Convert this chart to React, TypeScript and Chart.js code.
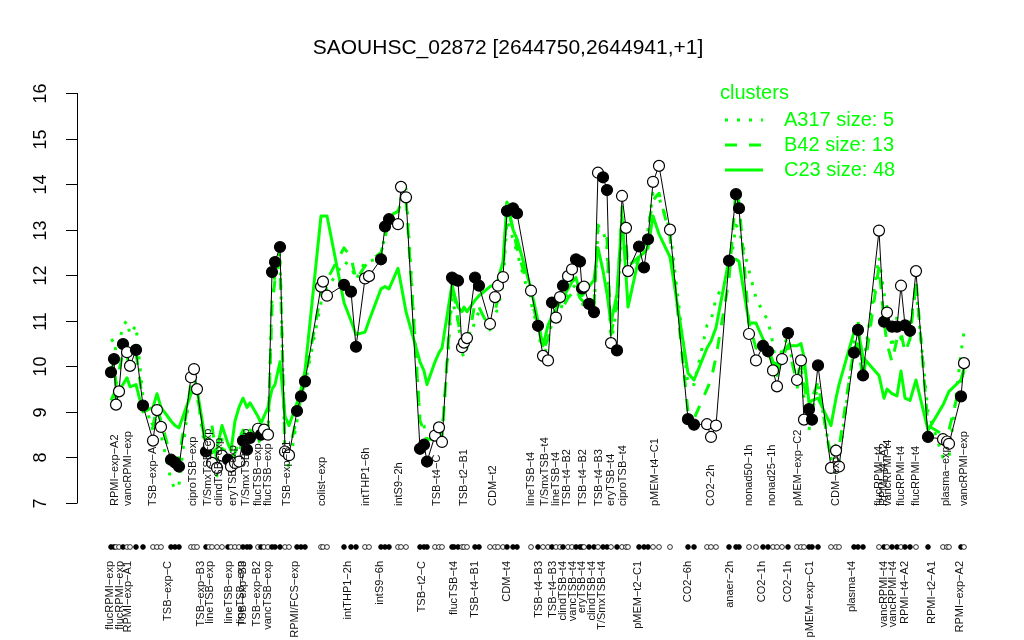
import React, { useEffect, useRef } from "react";
import { Chart, registerables } from "chart.js";

Chart.register(...registerables);

const TITLE = "SAOUHSC_02872 [2644750,2644941,+1]";

// sample positions along the x axis (arbitrary layout units, groups separated by gaps)
const samplePos = [
  34, 37, 39, 42, 46, 50, 53, 59, 66, 76, 80, 84, 94, 98, 102, 114, 117, 120, 129, 132,
  135, 140, 145, 151, 154, 158, 162, 166, 170, 173, 181, 184, 187, 191, 195, 198, 203, 208, 212, 220,
  224, 228, 244, 246, 250, 267, 274, 279, 288, 292, 304, 308, 312, 321, 324, 329, 343, 347, 350, 358,
  362, 365, 375, 377, 381, 385, 387, 390, 398, 402, 413, 418, 421, 426, 430, 436, 440, 454, 461, 466,
  471, 475, 479, 483, 486, 491, 495, 499, 503, 505, 507, 512, 517, 521, 526, 530, 534, 540, 545, 549,
  551, 562, 567, 571, 576, 582, 593, 611, 617, 630, 634, 639, 652, 659, 662, 672, 679, 686, 691, 696,
  700, 705, 711, 720, 724, 727, 732, 735, 741, 754, 759, 762, 777, 781, 786, 802, 807, 810, 815, 820,
  824, 828, 833, 839, 851, 866, 870, 872, 884, 887,
];

// expression of this gene
const expression = [
  9.87, 10.16, 9.16, 9.45, 10.49, 10.31, 10.01, 10.36, 9.14, 8.37, 9.04, 8.67, 7.95, 7.89, 7.8, 9.76, 9.94, 9.5, 8.13, 8.28,
  7.88, 7.77, 8.04, 7.95, 7.8, 7.88, 7.91, 8.37, 8.17, 8.43, 8.63, 8.5, 8.61, 8.5, 12.07, 12.29, 12.62, 8.13, 8.05, 9.02,
  9.34, 9.67, 11.75, 11.86, 11.55, 11.79, 11.64, 10.43, 11.93, 11.98, 12.35, 13.07, 13.23, 13.12, 13.94, 13.71, 8.19, 8.28, 7.91, 8.48,
  8.66, 8.34, 11.95, 11.91, 11.88, 10.42, 10.52, 10.62, 11.95, 11.77, 10.93, 11.52, 11.77, 11.96, 13.41, 13.47, 13.36, 11.66, 10.89, 10.23,
  10.13, 11.4, 11.07, 11.52, 11.77, 11.98, 12.13, 12.35, 12.3, 11.71, 11.75, 11.37, 11.19, 14.25, 14.15, 13.87, 10.51, 10.35, 13.74, 13.04,
  12.09, 12.63, 12.17, 12.79, 14.05, 14.4, 13.0, 8.84, 8.72, 8.73, 8.45, 8.7, 12.32, 13.78, 13.47, 10.71, 10.13, 10.45, 10.33, 9.91,
  9.56, 10.16, 10.73, 9.7, 10.13, 8.83, 9.06, 8.83, 10.02, 7.77, 8.15, 7.8, 10.3, 10.8, 9.8, 12.98, 10.98, 11.18, 10.87, 10.87,
  11.77, 10.9, 10.78, 12.09, 8.45, 8.4, 8.35, 8.3, 9.34, 10.07,
];

// 1 = filled marker, 0 = open marker
const filledMarker = [
  1, 1, 0, 0, 1, 0, 0, 1, 1, 0, 0, 0, 1, 1, 1, 0, 0, 0, 1, 0,
  0, 0, 0, 1, 0, 0, 0, 1, 1, 1, 0, 1, 0, 0, 1, 1, 1, 0, 0, 1,
  1, 1, 0, 0, 0, 1, 1, 1, 0, 0, 1, 1, 1, 0, 0, 0, 1, 1, 1, 0,
  0, 0, 1, 1, 1, 0, 0, 0, 1, 1, 0, 0, 0, 0, 1, 1, 1, 0, 1, 0,
  0, 1, 0, 0, 1, 0, 0, 1, 1, 1, 0, 1, 1, 0, 1, 1, 0, 1, 0, 0,
  0, 1, 1, 1, 0, 0, 0, 1, 1, 0, 0, 0, 1, 1, 1, 0, 0, 1, 1, 0,
  0, 0, 1, 0, 0, 0, 1, 1, 1, 0, 0, 0, 1, 1, 1, 0, 1, 0, 1, 1,
  0, 1, 1, 0, 1, 0, 0, 0, 1, 0,
];

// cluster A317 (dotted)
const clusterA317 = [
  10.55, 10.6, 10.3, 10.5, 10.9, 11.0, 10.7, 10.9, 9.3, 8.6, 9.0, 8.5, 7.5, 7.3, 7.4, 9.7, 9.9, 9.4, 8.0, 8.2,
  7.7, 7.6, 8.4, 7.8, 7.7, 8.0, 8.1, 8.4, 8.3, 8.5, 8.4, 8.3, 8.5, 8.4, 11.6, 12.0, 12.5, 8.0, 7.8, 8.8,
  9.2, 9.6, 11.4, 11.8, 11.7, 12.3, 12.2, 11.9, 12.3, 12.3, 12.4, 12.9, 13.2, 13.4, 13.7, 13.9, 8.8, 8.7, 8.3, 8.6,
  8.8, 8.5, 11.5, 11.3, 11.0, 10.3, 10.2, 10.4, 11.0, 11.2, 10.9, 11.1, 11.3, 11.8, 13.2, 12.8, 12.5, 11.4, 10.8, 10.2,
  10.5, 11.0, 11.1, 11.2, 11.4, 11.6, 11.7, 11.8, 11.6, 11.4, 11.3, 11.2, 11.2, 13.0, 13.0, 12.6, 10.5, 11.3, 13.0, 12.6,
  12.1, 12.3, 12.5, 13.0, 13.8, 13.7, 13.0, 9.6, 9.6, 10.9, 11.0, 11.5, 12.0, 13.1, 13.0, 12.1, 11.5, 11.2, 11.0, 10.5,
  9.8, 10.4, 10.65, 9.5, 10.1, 9.3, 8.6, 9.0, 9.6, 8.0, 7.7, 7.9, 10.5, 11.0, 10.0, 12.4, 11.6, 11.3, 10.4, 11.1,
  10.6, 10.9, 10.9, 11.7, 9.0, 8.0, 7.95, 8.0, 10.3, 10.75,
];

// cluster B42 (dashed)
const clusterB42 = [
  9.9, 10.1, 9.6, 9.9, 10.3, 10.2, 10.0, 10.3, 9.2, 8.7, 9.1, 8.8, 8.0, 7.95, 8.0, 9.6, 9.8, 9.4, 8.2, 8.4,
  8.7, 7.9, 8.2, 8.0, 7.9, 8.1, 8.4, 8.6, 8.4, 8.6, 8.5, 8.4, 8.5, 8.5, 11.3, 11.9, 12.3, 8.2, 8.1, 8.9,
  9.3, 9.7, 11.6, 11.8, 11.9, 12.6, 12.4, 11.9, 12.2, 12.3, 12.5, 12.8, 13.3, 13.4, 13.6, 13.7, 8.8, 8.6, 8.4, 8.4,
  8.6, 8.4, 11.8, 11.6, 11.0, 10.5, 10.3, 10.4, 11.4, 11.3, 10.8, 11.2, 11.5, 12.0, 13.6, 13.0, 12.6, 11.5, 10.9, 10.35,
  10.6, 11.1, 11.2, 11.25, 11.3, 11.5, 11.6, 11.7, 11.5, 11.45, 11.4, 11.3, 11.3, 13.1, 12.9, 12.8, 10.7, 11.4, 13.5, 12.7,
  12.2, 12.4, 12.55, 13.0, 13.65, 13.8, 12.85, 9.0, 8.85, 9.5, 9.7, 10.2, 11.9, 13.9, 13.6, 10.95, 10.4, 10.35, 10.3, 10.05,
  9.8, 10.2, 10.45, 9.65, 10.2, 9.6, 9.0, 9.3, 9.65, 7.95, 8.3, 8.2, 10.4, 10.5, 9.7, 12.2, 11.0, 10.5, 10.1, 10.6,
  10.75, 10.3, 10.6, 11.9, 8.7, 8.5, 8.55, 8.6, 9.7, 9.9,
];

// cluster C23 (solid)
const clusterC23 = [
  9.25, 9.4, 9.3, 9.5, 9.6, 9.75, 9.55, 9.6, 9.0, 9.1, 9.4, 9.1, 8.8, 8.7, 8.65, 9.4, 9.45, 9.5, 8.3, 8.2,
  8.1, 8.2, 8.7, 8.3, 8.15, 8.8, 9.1, 9.3, 9.1, 9.2, 8.9, 8.75, 8.9, 9.1, 9.5, 9.6, 10.1, 8.9, 8.7, 9.2,
  9.5, 9.9, 13.3, 13.3, 13.3, 11.4, 11.0, 10.7, 10.75, 11.0, 11.7, 11.75, 11.7, 12.15, 11.8, 11.2, 10.1, 9.9, 9.6, 10.1,
  10.3, 10.4, 11.8, 11.6, 11.3, 11.2, 11.3, 11.2, 11.45, 11.55, 11.75, 11.8, 11.9, 12.3, 13.6, 13.0, 12.8, 11.7, 11.0, 10.45,
  10.9, 11.1, 11.25, 11.4, 11.5, 11.7, 11.85, 11.95, 11.6, 11.55, 11.6, 11.75, 11.9, 12.6, 12.1, 11.6, 10.95, 11.6, 13.3, 12.0,
  11.3, 12.4, 12.5, 12.6, 13.3, 12.9, 12.4, 9.85, 9.7, 10.4, 10.55, 10.85, 12.35, 12.35, 12.3, 10.95, 10.95, 10.6, 10.4, 10.1,
  10.0, 10.3, 10.45, 10.45, 10.5, 10.2, 9.2, 9.25, 9.3, 8.7, 9.3, 9.6, 10.75, 10.8, 10.2, 9.8, 9.3, 9.5, 9.4, 9.35,
  9.9, 9.3, 9.25, 9.7, 8.6, 9.15, 9.35, 9.45, 9.7, 9.95,
];

const topLabels = [
  "RPMI−exp−A2", "vancRPMI−exp", "TSB−exp−A", "ciproTSB−exp", "T/SmxTSB−exp", "clindTSB−exp", "eryTSB−exp", "T/SmxTSB−exp",
  "flucTSB−exp", "flucTSB−exp", "TSB−exp−B1", "colist−exp", "intTHP1−6h", "intS9−2h", "TSB−t4−C", "TSB−t2−B1", "CDM−t2",
  "lineTSB−t4", "T/SmxTSB−t4", "lineTSB−t4", "TSB−t4−B2", "TSB−t4−B2", "TSB−t4−B3", "eryTSB−t4", "ciproTSB−t4",
  "pMEM−t4−C1", "CO2−2h", "nonad50−1h", "nonad25−1h", "pMEM−exp−C2", "CDM−exp", "flucRPMI−t4", "RPMI−t4−A2",
  "vancRPMI−t4", "flucRPMI−t4", "flucRPMI−t4", "plasma−exp", "vancRPMI−exp",
];
const topLabelPos = [
  38, 51, 76, 116, 131, 142, 156, 169, 181, 191, 210, 245, 289, 322, 360, 387, 416,
  454, 468, 479, 490, 506, 522, 534, 546, 578, 634, 672, 695, 721, 759, 802, 807,
  811, 824, 839, 869, 887,
];

const bottomLabels = [
  "flucRPMI−exp", "flucRPMI−exp", "RPMI−exp−A1", "TSB−exp−C", "TSB−exp−B3", "lineTSB−exp", "lineTSB−exp", "lineTSB−exp",
  "TSB−exp−B3", "TSB−exp−B2", "vancTSB−exp", "RPMI/FCS−exp", "intTHP1−2h", "intS9−6h", "TSB−t2−C", "flucTSB−t4",
  "TSB−t4−B1", "CDM−t4", "TSB−t4−B3", "TSB−t4−B3", "clindTSB−t4", "vancTSB−t4", "eryTSB−t4", "clindTSB−t4",
  "T/SmxTSB−t4", "pMEM−t2−C1", "CO2−6h", "anaer−2h", "CO2−1h", "CO2−1h", "pMEM−exp−C1", "plasma−t4",
  "vancRPMI−t4", "vancRPMI−t4", "RPMI−t4−A2", "RPMI−t2−A1", "RPMI−exp−A2",
];
const bottomLabelPos = [
  33, 43, 51, 91, 124, 133, 152, 164, 166, 180, 191, 218, 271, 303, 345, 377,
  398, 430, 462, 476, 486, 496, 505, 515, 525, 561, 611, 653, 685, 711, 733, 775,
  807, 816, 828, 855, 883,
];

const yTicks = [7, 8, 9, 10, 11, 12, 13, 14, 15, 16];

const legendTitle = "clusters";
const legendNames = ["A317 size: 5", "B42 size: 13", "C23 size: 48"];

const GREEN = "#00ff00";
const FONT = "'Liberation Sans', Arial, Helvetica, sans-serif";

const overlayPlugin = {
  id: "overlay",
  afterDraw(chart: any) {
    const ctx = chart.ctx as CanvasRenderingContext2D;
    const xs = chart.scales.x;
    const ys = chart.scales.y;
    ctx.save();

    // title
    ctx.fillStyle = "#000";
    ctx.font = `21px ${FONT}`;
    ctx.textAlign = "center";
    ctx.textBaseline = "middle";
    ctx.fillText(TITLE, 508, 48);

    // y axis
    const yTop = ys.getPixelForValue(yTicks[yTicks.length - 1]);
    const yBot = ys.getPixelForValue(yTicks[0]);
    const axX = 77;
    ctx.strokeStyle = "#000";
    ctx.lineWidth = 1;
    ctx.beginPath();
    ctx.moveTo(axX + 0.5, yTop);
    ctx.lineTo(axX + 0.5, yBot);
    ctx.stroke();
    ctx.font = `18px ${FONT}`;
    for (const t of yTicks) {
      const py = Math.round(ys.getPixelForValue(t)) + 0.5;
      ctx.beginPath();
      ctx.moveTo(axX + 0.5, py);
      ctx.lineTo(axX - 11, py);
      ctx.stroke();
      ctx.save();
      ctx.translate(41, py);
      ctx.rotate(-Math.PI / 2);
      ctx.textAlign = "center";
      ctx.textBaseline = "middle";
      ctx.fillText(String(t), 0, 0);
      ctx.restore();
    }

    // sample labels
    ctx.font = `11px ${FONT}`;
    ctx.fillStyle = "#111";
    topLabels.forEach((lab, i) => {
      const px = xs.getPixelForValue(topLabelPos[i]);
      ctx.save();
      ctx.translate(px, 506);
      ctx.rotate(-Math.PI / 2);
      ctx.textAlign = "left";
      ctx.textBaseline = "middle";
      ctx.fillText(lab, 0, 0);
      ctx.restore();
    });
    bottomLabels.forEach((lab, i) => {
      const px = xs.getPixelForValue(bottomLabelPos[i]);
      ctx.save();
      ctx.translate(px, 561);
      ctx.rotate(-Math.PI / 2);
      ctx.textAlign = "right";
      ctx.textBaseline = "middle";
      ctx.fillText(lab, 0, 0);
      ctx.restore();
    });

    // marker row under the plot
    samplePos.forEach((p, i) => {
      const px = xs.getPixelForValue(p);
      ctx.beginPath();
      ctx.arc(px, 547, 2.4, 0, Math.PI * 2);
      ctx.fillStyle = filledMarker[i] ? "#000" : "#fff";
      ctx.fill();
      ctx.lineWidth = 0.8;
      ctx.strokeStyle = "#000";
      ctx.stroke();
    });

    // legend
    ctx.fillStyle = GREEN;
    ctx.strokeStyle = GREEN;
    ctx.font = `20px ${FONT}`;
    ctx.textAlign = "left";
    ctx.textBaseline = "middle";
    ctx.fillText(legendTitle, 720, 93);
    const dashes = [[3, 9], [12, 12], []];
    legendNames.forEach((name, i) => {
      const ly = 120 + i * 25;
      ctx.fillText(name, 784, ly);
      ctx.save();
      ctx.lineWidth = 3;
      ctx.setLineDash(dashes[i]);
      ctx.beginPath();
      ctx.moveTo(725, ly);
      ctx.lineTo(763, ly);
      ctx.stroke();
      ctx.restore();
    });

    ctx.restore();
  },
};

export default function App() {
  const canvasRef = useRef<HTMLCanvasElement | null>(null);

  useEffect(() => {
    const canvas = canvasRef.current;
    if (!canvas) return;
    const pts = (vals: number[]) => vals.map((v, i) => ({ x: samplePos[i], y: v }));
    const chart = new Chart(canvas, {
      type: "line",
      data: {
        datasets: [
          {
            label: "expression",
            data: pts(expression),
            borderColor: "#000",
            borderWidth: 1,
            pointRadius: 5.5,
            pointBackgroundColor: filledMarker.map((f) => (f ? "#000" : "#fff")),
            pointBorderColor: "#000",
            pointBorderWidth: 1.2,
            tension: 0,
            order: 0,
          },
          {
            label: "A317",
            data: pts(clusterA317),
            borderColor: GREEN,
            borderWidth: 3,
            borderDash: [3, 9],
            pointRadius: 0,
            tension: 0,
            order: 1,
          },
          {
            label: "B42",
            data: pts(clusterB42),
            borderColor: GREEN,
            borderWidth: 3,
            borderDash: [12, 12],
            pointRadius: 0,
            tension: 0,
            order: 2,
          },
          {
            label: "C23",
            data: pts(clusterC23),
            borderColor: GREEN,
            borderWidth: 3,
            pointRadius: 0,
            tension: 0,
            order: 3,
          },
        ],
      },
      options: {
        animation: false,
        responsive: false,
        layout: { padding: { left: 77, right: 29, top: 93, bottom: 137 } },
        plugins: { legend: { display: false }, tooltip: { enabled: false }, title: { display: false } },
        scales: {
          x: { type: "linear", min: 0, max: 918, display: false },
          y: { type: "linear", min: 7, max: 16, display: false },
        },
        elements: { line: { borderCapStyle: "butt", borderJoinStyle: "round" } },
      },
      plugins: [overlayPlugin],
    });
    return () => chart.destroy();
  }, []);

  return (
    <div style={{ position: "absolute", left: 0, top: 0, width: 1024, height: 640, background: "#fff" }}>
      <canvas ref={canvasRef} width={1024} height={640} style={{ display: "block" }} />
    </div>
  );
}
